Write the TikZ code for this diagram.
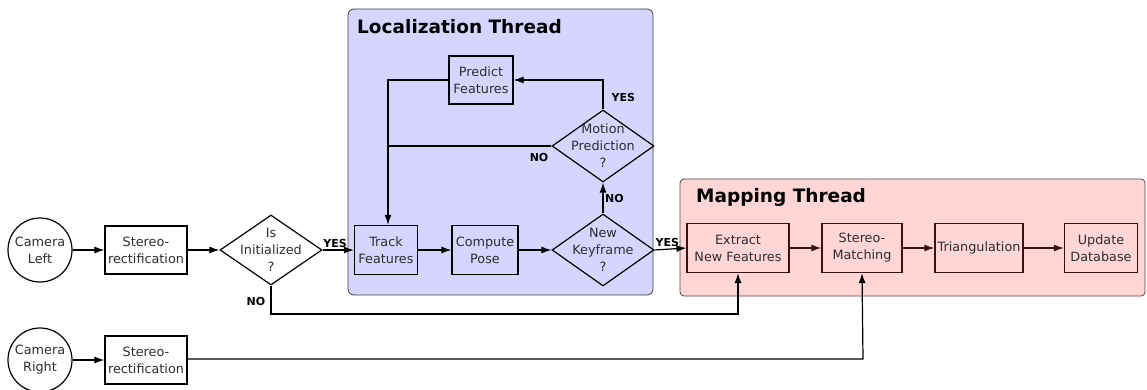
\documentclass[tikz,border=0pt]{standalone}
\usepackage{fontspec}
\setmainfont{DejaVu Sans}
\usetikzlibrary{shapes.geometric,arrows.meta,positioning,calc}
\definecolor{locfill}{HTML}{D5D5FF}
\definecolor{mapfill}{HTML}{FFD5D5}
\definecolor{mapline}{HTML}{3A1010}
\definecolor{txt}{HTML}{2E2E2E}
\begin{document}
\begin{tikzpicture}[x=1pt,y=-1pt,
  every node/.style={font=\fontsize{12.8}{17}\selectfont, text=txt, align=center},
  proc/.style={draw=black, line width=1.2pt, rectangle, inner sep=0pt},
  mproc/.style={draw=mapline, line width=1.2pt, rectangle, inner sep=0pt},
  cam/.style={draw=black, line width=1.2pt, circle, minimum size=64pt, inner sep=0pt},
  dec/.style={draw=black, line width=1.2pt, diamond, aspect=1.4, inner sep=0pt, minimum width=102pt, minimum height=72pt},
  flow/.style={line width=1.2pt, draw=black, -{Latex[length=10pt,width=7pt]}},
  mflow/.style={line width=1.2pt, draw=mapline, -{Latex[length=10pt,width=7pt]}},
  plain/.style={line width=1.2pt, draw=black},
  lbl/.style={font=\fontsize{11}{13}\bfseries\selectfont, text=black, inner sep=1.5pt},
  ttl/.style={font=\fontsize{18.5}{22}\bfseries\selectfont, text=black, anchor=west, inner sep=0pt}
]
\useasboundingbox (0,0) rectangle (1147,390);
% thread boxes
\draw[fill=locfill, draw=black!75, line width=0.8pt, rounded corners=6pt] (348,9) rectangle (653,295);
\node[ttl] (loct) at (357,27) {Localization Thread};
\draw[fill=mapfill, draw=mapline!80, line width=0.8pt, rounded corners=4pt] (680,179) rectangle (1145,296);
\node[ttl] (mapt) at (696,197) {Mapping Thread};

% left side
\node[cam] (camL) at (40,250) {Camera\\Left};
\node[proc, minimum width=82pt, minimum height=48pt] (sr1) at (146,250) {Stereo-\\rectification};
\node[dec, minimum height=70pt, label={[name=initt]center:Is\\Initialized\\?}] (init) at (271,250) {};
\node[cam] (camR) at (40,360) {Camera\\Right};
\node[proc, minimum width=82pt, minimum height=48pt] (sr2) at (146,360) {Stereo-\\rectification};

% localization
\node[proc, minimum width=64pt, minimum height=48pt] (pred) at (481,80) {Predict\\Features};
\node[proc, minimum width=63pt, minimum height=49pt] (track) at (386,250) {Track\\Features};
\node[proc, minimum width=66pt, minimum height=49pt] (comp) at (485,250) {Compute\\Pose};
\node[dec, label={[name=newkt]center:New\\Keyframe\\?}] (newk) at (603,250) {};
\node[dec, label={[name=motiont]center:Motion\\Prediction\\?}] (motion) at (603,146) {};

% mapping
\node[mproc, minimum width=102pt, minimum height=49pt] (extr) at (738,248) {Extract\\New Features};
\node[mproc, minimum width=80pt, minimum height=49pt] (smat) at (862,248) {Stereo-\\Matching};
\node[mproc, minimum width=88pt, minimum height=49pt] (tri) at (979,248) {Triangulation};
\node[mproc, minimum width=73pt, minimum height=49pt] (upd) at (1101,248) {Update\\Database};

\coordinate (nocorner) at (271,314);
\coordinate (srcorner) at (863,359);
\coordinate (jn) at (388,146);

% connectors
\draw[flow] (camL) -- (sr1);
\draw[flow] (sr1) -- (init);
\draw[flow] (init.east) -- (track.west) node[lbl, pos=0.4, above] {YES};
\draw[flow] (init.south) -- (nocorner) -| (extr.south);
\node[lbl, anchor=east] (no1) at (267,301) {NO};
\draw[flow] (camR) -- (sr2.west |- camR.east);
\draw[flow] (sr2.east |- srcorner) -- (srcorner) -- (smat.south);
\draw[flow] (track) -- (comp);
\draw[flow] (comp) -- (newk);
\draw[flow] (newk.east) -- (extr.west) node[lbl, pos=0.4, above] {YES};
\draw[flow] (newk.north) -- (motion.south) node[lbl, midway, right] {NO};
\draw[flow] (motion.north) |- (pred.east);
\node[lbl, anchor=west] (yes3) at (610,97) {YES};
\draw[flow] (pred.west) -| (jn) -- (jn |- track.north);
\draw[plain] (motion.west) -- (jn);
\node[lbl, anchor=east] (no3) at (550,157) {NO};
\draw[mflow] (extr) -- (smat);
\draw[mflow] (smat) -- (tri);
\draw[mflow] (tri) -- (upd);
\end{tikzpicture}
\end{document}
